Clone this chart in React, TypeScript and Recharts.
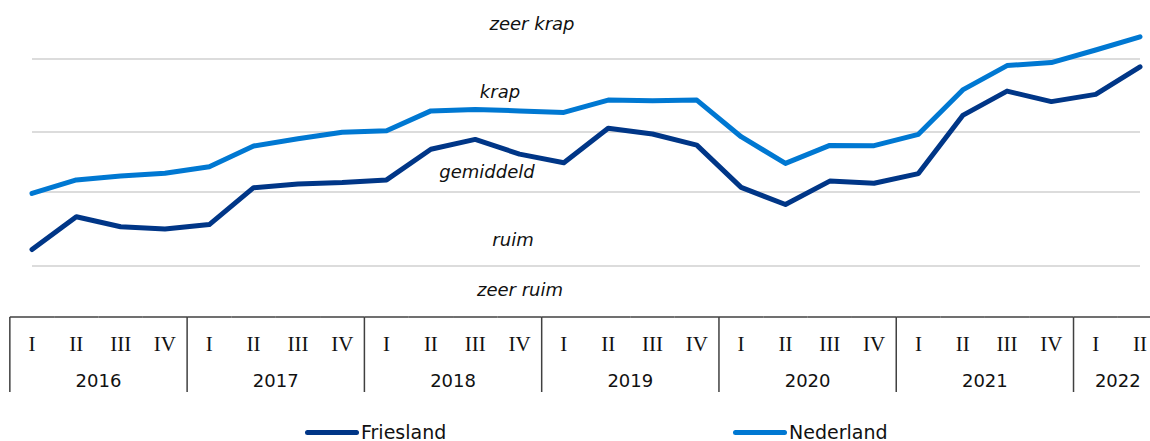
import { LineChart, Line, XAxis, YAxis, ReferenceLine, Legend } from "recharts";

// quarters 2016 I .. 2022 II
const years = [2016, 2016, 2016, 2016, 2017, 2017, 2017, 2017, 2018, 2018, 2018, 2018, 2019, 2019, 2019, 2019, 2020, 2020, 2020, 2020, 2021, 2021, 2021, 2021, 2022, 2022];
const quarters = ["I", "II", "III", "IV", "I", "II", "III", "IV", "I", "II", "III", "IV", "I", "II", "III", "IV", "I", "II", "III", "IV", "I", "II", "III", "IV", "I", "II"];

// spanningsindicator (0 = zeer ruim .. 100 = zeer krap)
const friesland = [22.5, 33.4, 30.1, 29.3, 30.8, 43.1, 44.3, 44.8, 45.7, 55.9, 59.2, 54.3, 51.4, 62.9, 61.0, 57.3, 43.2, 37.5, 45.3, 44.6, 47.8, 67.2, 75.3, 71.8, 74.2, 83.4];
const nederland = [41.2, 45.7, 47.0, 47.9, 50.1, 57.0, 59.4, 61.6, 62.1, 68.7, 69.2, 68.7, 68.2, 72.3, 72.1, 72.3, 60.1, 51.2, 57.2, 57.1, 60.9, 75.7, 83.8, 84.8, 89.0, 93.4];

// grenzen tussen de klassen en de klasse-labels
const bandBorders = [17, 41.7, 61.7, 86];
const bandLabels = ["zeer krap", "krap", "gemiddeld", "ruim", "zeer ruim"];
const bandLabelValues = [97.7, 75, 48.3, 25.7, 9];

const data = quarters.map((q, i) => ({
  q,
  year: years[i],
  friesland: friesland[i],
  nederland: nederland[i],
}));

const W = 1142;
const H = 433;
const M = { top: 9, right: 10, left: 24, bottom: 40 };
const STEP = (W - M.left - M.right) / (data.length - 1);
const HALF = STEP / 2;
const LABEL_DX = [-54, -86, -99, -73, -66];
const AXIS_COLOR = "#404040";

function QuarterTick(props: any) {
  const { x, y, index } = props;
  const row = data[index];
  const first = index === 0 || data[index - 1].year !== row.year;
  const n = years.filter((yr) => yr === row.year).length;
  return (
    <g>
      <line x1={x - HALF} x2={x + HALF} y1={y} y2={y} stroke={AXIS_COLOR} strokeWidth={1.5} />
      {first && <line x1={x - HALF} x2={x - HALF} y1={y} y2={y + 75} stroke={AXIS_COLOR} strokeWidth={1.5} />}
      <text x={x} y={y + 27} textAnchor="middle" dominantBaseline="central" fontFamily="'Liberation Serif', serif" fontSize={21} fill="#111">
        {row.q}
      </text>
      {first && (
        <text x={x + ((n - 1) / 2) * STEP} y={y + 63} textAnchor="middle" dominantBaseline="central" fontFamily="'DejaVu Sans', sans-serif" fontSize={18} fill="#111">
          {row.year}
        </text>
      )}
    </g>
  );
}

function LegendContent() {
  const items = [
    { name: "Friesland", color: "#003687", x: 297 },
    { name: "Nederland", color: "#0078d2", x: 725 },
  ];
  return (
    <div style={{ position: "relative", width: W, height: 22, fontFamily: "'DejaVu Sans', sans-serif", fontSize: 19, color: "#111" }}>
      {items.map((it) => (
        <div key={it.name} style={{ position: "absolute", left: it.x, top: 0, height: 22, display: "flex", alignItems: "center" }}>
          <span style={{ display: "inline-block", width: 54, height: 5, borderRadius: 3, background: it.color, marginRight: 2 }} />
          <span>{it.name}</span>
        </div>
      ))}
    </div>
  );
}

export default function App() {
  return (
    <div style={{ padding: "8px 0 0 8px" }}>
      <style>{"html { overflow: hidden; } body { margin: 0; }"}</style>
      <LineChart width={W} height={H} data={data} margin={M}>
        <YAxis hide domain={[0, 100]} />
        <XAxis
          dataKey="q"
          interval={0}
          axisLine={false}
          tickLine={false}
          tickSize={0}
          tickMargin={0}
          height={84}
          tick={<QuarterTick />}
        />
        {bandBorders.map((v) => (
          <ReferenceLine key={v} y={v} stroke="#d0d0d0" strokeWidth={1.5} />
        ))}
        {bandLabels.map((lbl, i) => (
          <ReferenceLine
            key={lbl}
            y={bandLabelValues[i]}
            stroke="none"
            ifOverflow="visible"
            label={{
              value: lbl,
              position: "center",
              dx: LABEL_DX[i],
              fill: "#111",
              fontSize: 18,
              fontStyle: "italic",
              fontFamily: "'DejaVu Sans', sans-serif",
            }}
          />
        ))}
        <Line type="linear" dataKey="friesland" name="Friesland" stroke="#003687" strokeWidth={5} strokeLinecap="round" strokeLinejoin="round" dot={false} isAnimationActive={false} />
        <Line type="linear" dataKey="nederland" name="Nederland" stroke="#0078d2" strokeWidth={5} strokeLinecap="round" strokeLinejoin="round" dot={false} isAnimationActive={false} />
        <Legend
          layout="horizontal"
          verticalAlign="middle"
          align="center"
          content={<LegendContent />}
          wrapperStyle={{ top: 413, left: 0, bottom: "auto", width: W }}
        />
      </LineChart>
    </div>
  );
}
